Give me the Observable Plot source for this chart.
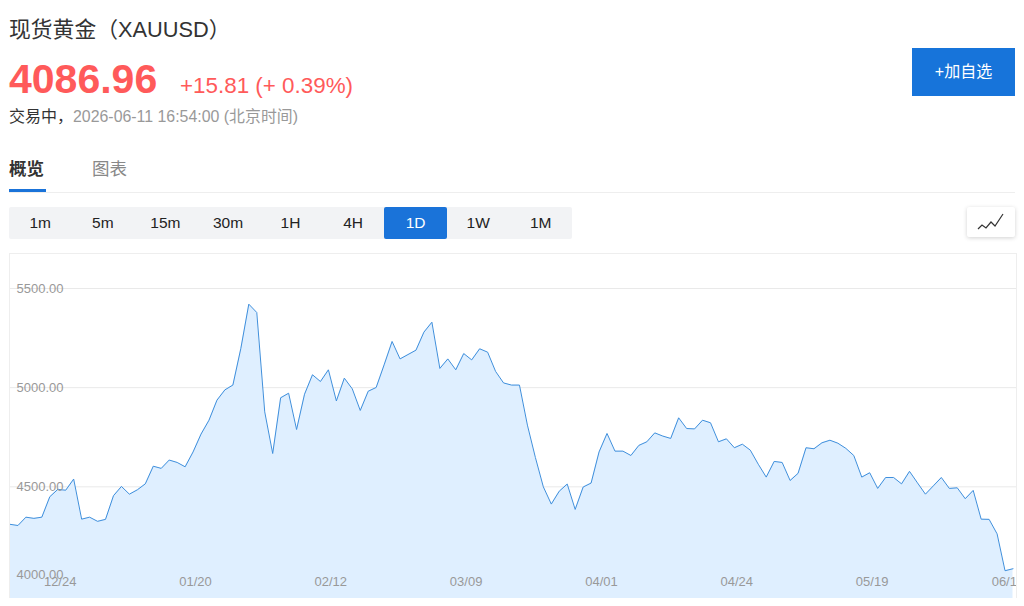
<!DOCTYPE html>
<html lang="zh">
<head>
<meta charset="utf-8">
<script src="https://cdn.jsdelivr.net/npm/d3@7"></script>
<script src="https://cdn.jsdelivr.net/npm/@observablehq/plot@0.6"></script>
<style>
html,body{margin:0;padding:0;background:#fff;width:1024px;height:606px;overflow:hidden}
body{font-family:"Liberation Sans","Noto Sans CJK SC",sans-serif;position:relative}
.abs{position:absolute;white-space:nowrap;line-height:1}
#periods{position:absolute;left:9px;top:207px;height:32px;width:563px;background:#f2f3f5;display:flex;border-radius:2px}
#periods div{width:62.6px;text-align:center;line-height:32px;font-size:15.5px;color:#222}
#periods div.on{background:#1a73d9;color:#fff;border-radius:2px}
#chart{position:absolute;left:9px;top:253px;width:1007px;height:345px}
#chart svg{display:block;background:transparent}
#edgeL,#edgeR{position:absolute;top:253px;height:345px;width:1px;background:#eee}
#edgeT{position:absolute;top:253px;left:9px;height:1px;width:1007px;background:#eee}
</style>
</head>
<body>
<div class="abs" style="left:9px;top:19px;font-size:21.8px;color:#333">现货黄金（XAUUSD）</div>
<div class="abs" style="left:9px;top:59px;font-size:41px;font-weight:bold;color:#ff5a5a">4086.96</div>
<div class="abs" style="left:180px;top:75px;font-size:22.4px;color:#ff5a5a">+15.81 (+ 0.39%)</div>
<div class="abs" style="left:9px;top:109px;font-size:16px;color:#333">交易中，<span style="color:#999;font-size:15.9px">2026-06-11 16:54:00 (北京时间)</span></div>
<div class="abs" style="left:9px;top:161px;font-size:17.5px;font-weight:bold;color:#333">概览</div>
<div class="abs" style="left:92px;top:161px;font-size:17.5px;color:#888">图表</div>
<div class="abs" style="left:9px;top:189px;width:37px;height:3px;background:#1a73d9"></div>
<div class="abs" style="left:9px;top:192px;width:1006px;height:1px;background:#eee"></div>
<div class="abs" style="left:912px;top:48px;width:103px;height:48px;background:#1774da;color:#fff;font-size:16px;line-height:48px;text-align:center">+加自选</div>
<div id="periods"></div>
<div class="abs" style="left:967px;top:207px;width:48px;height:30px;background:#fff;box-shadow:0 1px 4px rgba(0,0,0,.18);border-radius:2px">
<svg width="48" height="30"><path d="M11 22 L15 18 L19 21 L24 15 L28 19 L36 7" fill="none" stroke="#333" stroke-width="1.2"/></svg>
</div>
<div id="chart"></div>
<div id="edgeT"></div>
<div id="edgeL" style="left:9px"></div>
<div id="edgeR" style="left:1016px"></div>
<script>
const periods = ["1m","5m","15m","30m","1H","4H","1D","1W","1M"];
const activePeriod = "1D";
const prices = [
4311,4305,4347,4341,4347,4450,4487,4483,4539,4337,4347,4326,4336,4455,4502,4463,4485,4515,4604,4593,
4635,4623,4601,4676,4766,4836,4937,4989,5013,5198,5421,5379,4878,4668,4949,4972,4789,4967,5065,5031,
5090,4933,5048,4994,4885,4982,5001,5115,5233,5145,5167,5189,5280,5330,5097,5145,5090,5172,5140,5196,
5179,5082,5024,5013,5013,4811,4648,4500,4413,4478,4514,4386,4499,4519,4676,4769,4680,4680,4658,4709,
4727,4772,4756,4744,4848,4794,4792,4836,4823,4727,4742,4697,4715,4685,4614,4549,4628,4623,4532,4568,
4697,4692,4722,4735,4720,4694,4658,4549,4571,4492,4547,4547,4515,4578,4520,4463,4505,4547,4492,4495,
4440,4482,4337,4336,4263,4077,4087];
const yTickValues = [5500,5000,4500];
const yLowTick = 4000;
const floorValue = 3937;
const xTickIndex = [6,23,40,57,74,91,108,125];
const xTickLabels = ["12/24","01/20","02/12","03/09","04/01","04/24","05/19","06/11"];

d3.select("#periods").selectAll("div").data(periods).join("div")
  .attr("class",d=>d===activePeriod?"on":null).text(d=>d);

const rows = prices.map((v,i)=>({i,v}));
const xt = xTickIndex.map((i,k)=>({i,label:xTickLabels[k]}));
const fmt = d3.format(".2f");
const textStyle = {fontSize:13,fill:"#999",fontFamily:"'Liberation Sans',sans-serif"};

const chart = Plot.plot({
  width:1007,height:345,
  marginTop:0,marginBottom:0,marginLeft:0,marginRight:0,
  x:{type:"linear",domain:[0,prices.length-1],range:[0.5,1003.5],axis:null},
  y:{type:"linear",domain:[yLowTick,5500],range:[332.5,35],axis:null},
  marks:[
    Plot.ruleY(yTickValues,{stroke:"#e9e9e9",strokeWidth:1}),
    Plot.areaY(rows,{x:"i",y1:()=>floorValue,y2:"v",fill:"#dfefff",curve:"linear"}),
    Plot.lineY(rows,{x:"i",y:"v",stroke:"#3f8fdc",strokeWidth:1,curve:"linear"}),
    Plot.text(yTickValues,{x:0,y:d=>d,text:d=>fmt(d),textAnchor:"start",dx:6.5,...textStyle}),
    Plot.text([yLowTick],{x:0,y:d=>d,text:d=>fmt(d),textAnchor:"start",dx:6.5,dy:-11.5,...textStyle}),
    Plot.text(xt,{x:"i",y:()=>floorValue,text:"label",dx:2.4,dy:-17,...textStyle})
  ]
});
document.getElementById("chart").appendChild(chart);
</script>
</body>
</html>
